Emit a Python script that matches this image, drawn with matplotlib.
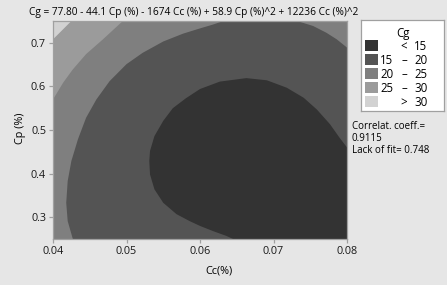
import numpy as np
import matplotlib.pyplot as plt
from matplotlib.patches import Rectangle

# contour boundaries, as (Cc, Cp) points
# Cg = 15 (edge of the dark region), from bottom edge round to right edge
cc_15 = [0.0645, 0.0636, 0.0618, 0.0600, 0.0586, 0.0568, 0.0550, 0.0538, 0.0532, 0.0531,
         0.0532, 0.0538, 0.0550, 0.0563, 0.0581, 0.0600, 0.0627, 0.0663, 0.0691, 0.0718,
         0.0741, 0.0759, 0.0777, 0.0790, 0.0800]
cp_15 = [0.250, 0.257, 0.268, 0.280, 0.291, 0.307, 0.333, 0.364, 0.398, 0.429,
         0.452, 0.486, 0.521, 0.550, 0.573, 0.594, 0.611, 0.619, 0.614, 0.597,
         0.574, 0.547, 0.513, 0.482, 0.460]
# Cg = 20, from bottom edge up, leaves the top and comes back to the right edge
cc_20 = [0.0427, 0.0420, 0.0418, 0.0420, 0.0425, 0.0434, 0.0445, 0.0459, 0.0477, 0.0500,
         0.0522, 0.0550, 0.0577, 0.0600, 0.0618, 0.0632,
         0.0732, 0.0754, 0.0772, 0.0786, 0.0800]
cp_20 = [0.250, 0.291, 0.333, 0.383, 0.429, 0.479, 0.528, 0.570, 0.612, 0.651,
         0.677, 0.703, 0.721, 0.733, 0.742, 0.750,
         0.750, 0.7385, 0.723, 0.708, 0.689]
# Cg = 25 and Cg = 30, top-left corner
cc_25 = [0.0400, 0.0414, 0.0427, 0.0445, 0.0468, 0.0495]
cp_25 = [0.570, 0.609, 0.639, 0.674, 0.708, 0.750]
cc_30 = [0.0400, 0.0409, 0.0425]
cp_30 = [0.708, 0.723, 0.750]

level_colors = ['#333333', '#545454', '#7f7f7f', '#9b9b9b', '#d2d2d2']
legend_rows = [('', '<', '15'), ('15', '\u2013', '20'), ('20', '\u2013', '25'),
               ('25', '\u2013', '30'), ('', '>', '30')]
cc_range = [0.04, 0.08]
cp_range = [0.25, 0.75]
xticks = [0.04, 0.05, 0.06, 0.07, 0.08]
yticks = [0.3, 0.4, 0.5, 0.6, 0.7]
title = 'Cg = 77.80 - 44.1 Cp (%) - 1674 Cc (%) + 58.9 Cp (%)^2 + 12236 Cc (%)^2'
stats = 'Correlat. coeff.=\n0.9115\nLack of fit= 0.748'

plt.rcParams['font.family'] = ['Open Sans', 'DejaVu Sans']
plt.rcParams['font.size'] = 7.3

W, H = 447, 285
bg = '#e6e6e6'
fig = plt.figure(figsize=(W / 100, H / 100), dpi=100, facecolor=bg)


def px(x0, y0, x1, y1):
    return [x0 / W, 1 - y1 / H, (x1 - x0) / W, (y1 - y0) / H]


ax = fig.add_axes(px(53, 21, 347, 239))
x0, x1 = cc_range
y0, y1 = cp_range
# paint from the 20-25 band inwards/outwards
ax.set_facecolor(level_colors[2])
ax.fill(cc_25 + [x0], cp_25 + [y1], color=level_colors[3], lw=0)
ax.fill(cc_30 + [x0], cp_30 + [y1], color=level_colors[4], lw=0)
ax.fill(cc_20 + [x1], cp_20 + [y0], color=level_colors[1], lw=0)
ax.fill(cc_15 + [x1], cp_15 + [y0], color=level_colors[0], lw=0)
ax.set_xlim(cc_range)
ax.set_ylim(cp_range)
ax.set_xticks(xticks)
ax.set_xticklabels(['%.2f' % t for t in xticks])
ax.set_yticks(yticks)
ax.set_yticklabels(['%.1f' % t for t in yticks])
for s in ax.spines.values():
    s.set_color('#a0a0a0')
    s.set_linewidth(0.9)
    s.set_zorder(5)
ax.tick_params(labelcolor='#1a1a1a', color='#a0a0a0', length=3, width=0.9,
               labelsize=7.8, pad=2)

fig.text(219 / W, 1 - 271 / H, 'Cc(%)', ha='center', va='center', fontsize=7.8)
fig.text(20 / W, 1 - 128 / H, 'Cp (%)', ha='center', va='center', rotation=90, fontsize=7.8)
fig.text(29 / W, 1 - 12 / H, title, va='center', ha='left', fontsize=7.3)

# legend box
lax = fig.add_axes(px(361, 20, 444, 111))
lax.set_xlim(361, 444)
lax.set_ylim(111, 20)
lax.set_xticks([])
lax.set_yticks([])
lax.set_facecolor('white')
for s in lax.spines.values():
    s.set_color('#a0a0a0')
    s.set_linewidth(0.9)
lax.text(403, 32, 'Cg', ha='center', va='center_baseline', fontsize=8.3)
for i, (lo, sym, hi) in enumerate(legend_rows):
    yc = 45.5 + 14 * i
    lax.add_patch(Rectangle((365, yc - 5.5), 12.7, 11, facecolor=level_colors[i],
                            edgecolor='none'))
    lax.text(393.5, yc, lo, ha='right', va='center_baseline', fontsize=8.3)
    lax.text(404, yc, sym, ha='center', va='center_baseline', fontsize=8.3)
    lax.text(427.5, yc, hi, ha='right', va='center_baseline', fontsize=8.3)

fig.text(351.5 / W, 1 - 121 / H, stats, va='top', ha='left', fontsize=7,
         linespacing=1.15)

fig.savefig('out.png', dpi=100, facecolor=bg)
